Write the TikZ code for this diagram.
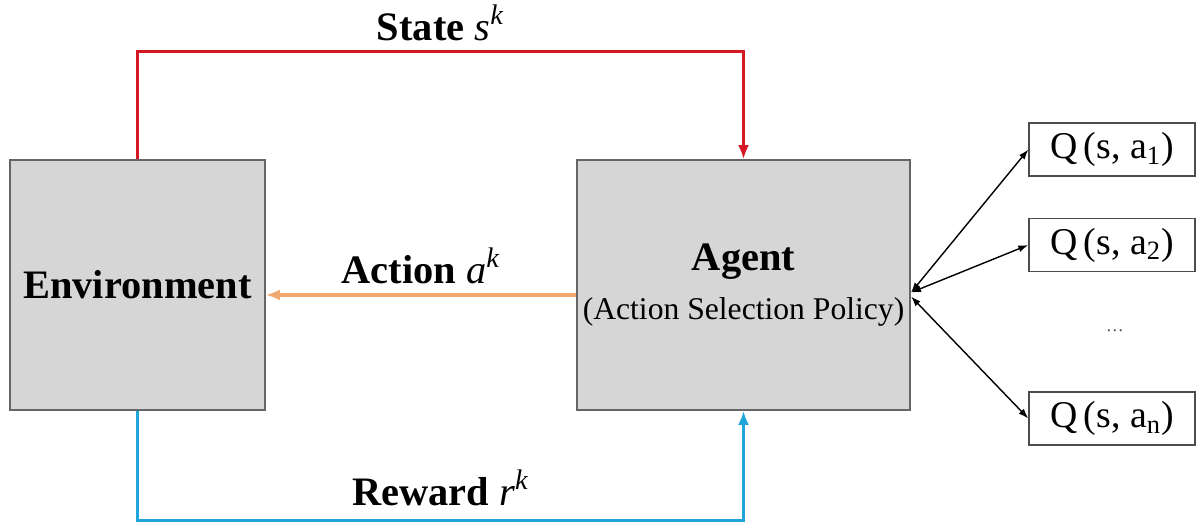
\documentclass[tikz,border=0pt]{standalone}
\usepackage{xcolor}
\usepackage{tikz}
\usetikzlibrary{shapes, arrows.meta, positioning}
\usepackage{amsmath}
\usepackage{fontspec}
\setmainfont{Liberation Serif}

\definecolor{boxgray}{RGB}{214,214,214}
\definecolor{stateRed}{RGB}{214,24,36}
\definecolor{actionOrange}{RGB}{240,168,112}
\definecolor{rewardBlue}{RGB}{30,166,218}

\begin{document}
\begin{tikzpicture}[
        block/.style={draw=black!60, line width=1pt, rectangle, fill=boxgray, minimum height=5cm},
        qbox/.style={draw=black!70, line width=0.8pt, rectangle, fill=white, minimum width=3.32cm, minimum height=1.06cm, font=\fontsize{21.5}{24}\selectfont},
        flow/.style={line width=1.8pt, -{Latex[length=0.28cm, width=0.22cm]}},
        bigtext/.style={font=\fontsize{23}{28}\selectfont\bfseries},
        link/.style={line width=0.8pt, {Latex[length=0.2cm, width=0.14cm]}-{Latex[length=0.2cm, width=0.14cm]}}
    ]
            \fill[white] (0,0) rectangle (24,10.54);
            \useasboundingbox (0,0) rectangle (24,10.54);

            \node[block, minimum width=5.1cm, bigtext] (env) at (2.75,4.84) {Environment};
            \node[block, minimum width=6.46cm, align=center, font=\fontsize{18}{28}\selectfont] (agent) at (14.87,4.84) {
                {\fontsize{23}{28}\selectfont\bfseries Agent} \\
                (Action Selection Policy)
            };

            \node[qbox] (q1) at (22.24,7.55) {Q\,(s,~a\textsubscript{1})};
            \node[qbox] (q2) at (22.24,5.64) {Q\,(s,~a\textsubscript{2})};
            \node[text=black!70] (qdots) at (22.3,3.92) {\ldots};
            \node[qbox] (qn) at (22.24,2.17) {Q\,(s,~a\textsubscript{n})};

            \draw[flow, stateRed] (env.north) -- ++(0,2.16) -| (agent.north)
                node[pos=0.25, above=0.05cm, bigtext, text=black] {State \textit{\mdseries s}\textsuperscript{\textit{\mdseries k}}};
            \draw[flow, actionOrange] ([yshift=-0.2cm]agent.west) -- ([yshift=-0.2cm]env.east)
                node[midway, above=0.08cm, bigtext, text=black] {Action \textit{\mdseries a}\textsuperscript{\textit{\mdseries k}}};
            \draw[flow, rewardBlue] (env.south) -- ++(0,-2.2) -| (agent.south)
                node[pos=0.25, above=0.15cm, bigtext, text=black] {Reward \textit{\mdseries r}\textsuperscript{\textit{\mdseries k}}};

            \coordinate (hub) at ([yshift=-0.15cm]agent.east);
            \draw[link] (hub) -- (q1.west);
            \draw[link] (hub) -- (q2.west);
            \draw[link] ([yshift=-0.08cm]hub) -- (qn.west);
        \end{tikzpicture}
\end{document}
